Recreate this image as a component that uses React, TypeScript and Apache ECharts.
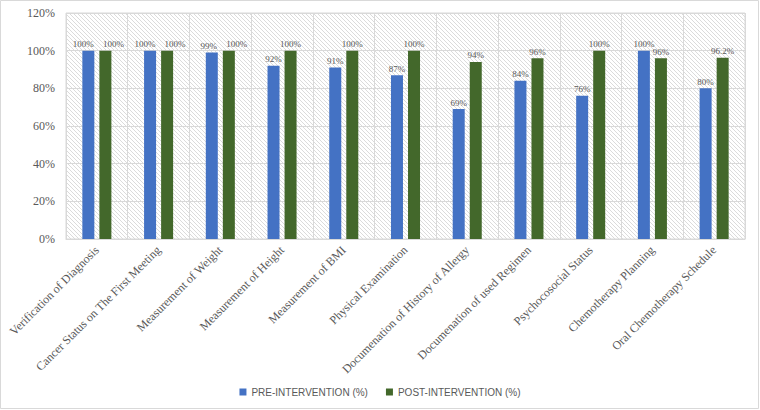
import React, { useEffect, useRef } from "react";
import * as echarts from "echarts";

const categories = [
  "Verification of Diagnosis",
  "Cancer Status on The First Meeting",
  "Measurement of Weight",
  "Measurement of Height",
  "Measurement of BMI",
  "Physical Examination",
  "Documenation of History of Allergy",
  "Documenation of used Regimen",
  "Psychocosocial Status",
  "Chemotherapy Planning",
  "Oral Chemotherapy Schedule",
];
const preValues = [100, 100, 99, 92, 91, 87, 69, 84, 76, 100, 80];
const postValues = [100, 100, 100, 100, 100, 100, 94, 96, 100, 96, 96.2];
const yTicks = [0, 20, 40, 60, 80, 100, 120];
const seriesNames = ["PRE-INTERVENTION (%)", "POST-INTERVENTION (%)"];

const hatchSvg =
  "<svg xmlns='http://www.w3.org/2000/svg' width='4' height='4'>" +
  "<rect width='4' height='4' fill='#ffffff'/>" +
  "<path d='M-1,-1 L5,5 M-1,3 L1,5 M3,-1 L5,1' stroke='#cccccc' stroke-width='0.7'/>" +
  "</svg>";
const hatchUrl = "data:image/svg+xml;charset=utf-8," + encodeURIComponent(hatchSvg);

export default function App() {
  const ref = useRef<HTMLDivElement>(null);
  useEffect(() => {
    if (!ref.current) return;
    document.body.style.margin = "0";
    const chart = echarts.init(ref.current, null, { renderer: "svg" });
    const serif = "'Liberation Serif', 'Times New Roman', serif";
    const labelStyle = {
      show: true,
      position: "top" as const,
      formatter: (p: any) => p.value + "%",
      color: "#595959",
      fontFamily: serif,
      fontSize: 9,
      distance: 2,
    };
    // spread apart labels of the two bars when they sit at nearly the same height
    const close = preValues.map((v, i) => Math.abs(v - postValues[i]) < 3);
    const preData = preValues.map((v, i) =>
      close[i] && v >= postValues[i]
        ? { value: v, label: { offset: [-5, 0] } }
        : close[i]
        ? { value: v, label: { offset: [-3, 0] } }
        : v
    );
    const postData = postValues.map((v, i) =>
      close[i] ? { value: v, label: { offset: [8, 0] } } : v
    );
    chart.setOption({
      animation: false,
      backgroundColor: "#ffffff",
      graphic: [
        {
          type: "rect",
          shape: { x: 0.5, y: 0.5, width: 758, height: 408 },
          style: { fill: "none", stroke: "#d9d9d9", lineWidth: 1 },
          silent: true,
        },
      ],
      grid: {
        left: 66,
        right: 15,
        top: 13,
        bottom: 171,
        containLabel: false,
        outerBoundsMode: "none",
        show: true,
        backgroundColor: { image: hatchUrl, repeat: "repeat" } as any,
        borderColor: "#d9d9d9",
        borderWidth: 1,
      } as any,
      legend: {
        top: 382,
        left: "center",
        itemWidth: 7,
        itemHeight: 7,
        itemGap: 18,
        icon: "rect",
        textStyle: {
          color: "#595959",
          fontFamily: "'Liberation Sans', Arial, sans-serif",
          fontSize: 10,
        },
        data: seriesNames,
      },
      xAxis: {
        type: "category",
        data: categories,
        axisLine: { show: true, lineStyle: { color: "#d9d9d9" } },
        axisTick: { show: false },
        splitLine: { show: true, lineStyle: { color: "#d9d9d9" } },
        axisLabel: {
          rotate: 45,
          interval: 0,
          color: "#595959",
          fontFamily: serif,
          fontSize: 12,
          margin: 9,
        },
      },
      yAxis: {
        type: "value",
        min: yTicks[0],
        max: yTicks[yTicks.length - 1],
        interval: 20,
        axisLine: { show: false },
        axisTick: { show: false },
        splitLine: { show: true, lineStyle: { color: "#d9d9d9" } },
        axisLabel: {
          formatter: "{value}%",
          color: "#595959",
          fontFamily: serif,
          fontSize: 12,
          margin: 11,
        },
      },
      series: [
        {
          name: seriesNames[0],
          type: "bar",
          data: preData,
          barWidth: 12,
          barGap: "42%",
          itemStyle: { color: "#4472C4" },
          label: labelStyle,
        },
        {
          name: seriesNames[1],
          type: "bar",
          data: postData,
          barWidth: 12,
          itemStyle: { color: "#43682B" },
          label: labelStyle,
        },
      ],
    });
    return () => chart.dispose();
  }, []);
  return <div ref={ref} style={{ width: 760, height: 410 }} />;
}
